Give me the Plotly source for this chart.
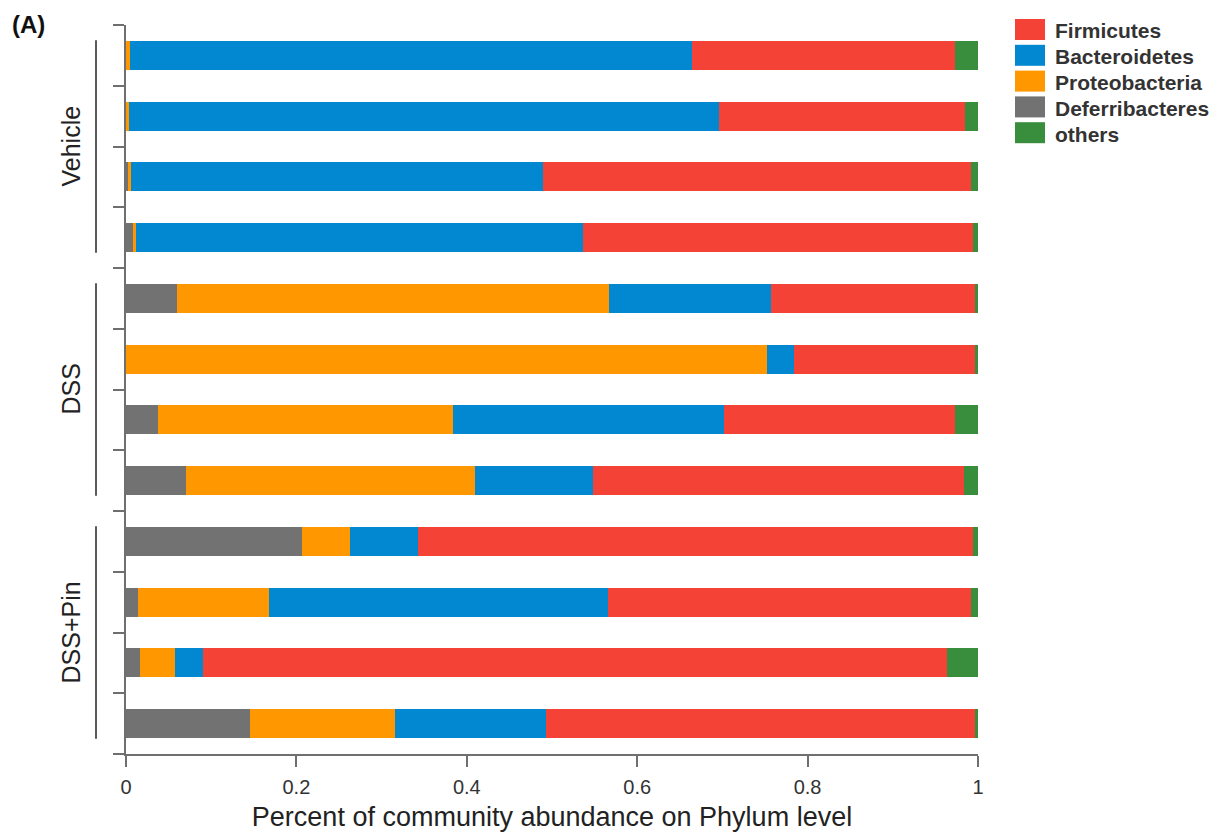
import numpy as np
import plotly.graph_objects as go

# Relative abundance at phylum level, one entry per sample (top to bottom)
samples = ["V1", "V2", "V3", "V4", "D1", "D2", "D3", "D4", "P1", "P2", "P3", "P4"]
groups = ["Vehicle", "DSS", "DSS+Pin"]
group_size = 4

deferribacteres = [0.000, 0.000, 0.002, 0.008, 0.060, 0.000, 0.038, 0.070, 0.207, 0.014, 0.016, 0.145]
proteobacteria = [0.005, 0.004, 0.004, 0.004, 0.507, 0.752, 0.346, 0.340, 0.056, 0.154, 0.042, 0.171]
bacteroidetes = [0.659, 0.692, 0.483, 0.524, 0.190, 0.032, 0.318, 0.138, 0.080, 0.398, 0.032, 0.177]
firmicutes = [0.309, 0.289, 0.503, 0.458, 0.239, 0.212, 0.271, 0.436, 0.651, 0.426, 0.874, 0.503]
others = [0.027, 0.015, 0.008, 0.006, 0.004, 0.004, 0.027, 0.016, 0.006, 0.008, 0.036, 0.004]

x_ticks = [0, 0.2, 0.4, 0.6, 0.8, 1]
x_tick_text = ["0", "0.2", "0.4", "0.6", "0.8", "1"]

# stacking order (left to right) and legend order (top to bottom)
stack = [
    ("Deferribacteres", deferribacteres, "#727272"),
    ("Proteobacteria", proteobacteria, "#FF9800"),
    ("Bacteroidetes", bacteroidetes, "#0288D1"),
    ("Firmicutes", firmicutes, "#F44336"),
    ("others", others, "#388E3C"),
]
legend_order = ["Firmicutes", "Bacteroidetes", "Proteobacteria", "Deferribacteres", "others"]
colors = {name: col for name, _, col in stack}

rows = np.arange(len(samples))
axis_col = "#6f6f6f"
font = "Liberation Sans, Arial, sans-serif"

fig = go.Figure()
for name, vals, col in stack:
    fig.add_trace(go.Bar(
        y=rows, x=vals, orientation="h", name=name,
        marker=dict(color=col, line=dict(width=0)),
        width=0.48, showlegend=False,
        hovertemplate=name + ": %{x:.3f}<extra></extra>",
    ))

# page-pixel helpers for the plot frame
W, H = 1220, 833
L, R, T, B = 126, 242, 25, 79
def px_x(p):
    return (p - L) / (W - L - R)
def px_y(p):
    return (H - B - p) / (H - T - B)

shapes = []
annotations = []

# group brackets and labels
for gi, g in enumerate(groups):
    first = gi * group_size
    last = first + group_size - 1
    shapes.append(dict(type="line", xref="paper", yref="y",
                       x0=px_x(96), x1=px_x(96), y0=first - 0.25, y1=last + 0.25,
                       line=dict(color="#5a5a5a", width=2)))
    annotations.append(dict(xref="paper", yref="y", x=px_x(70), y=(first + last) / 2,
                            text=g, textangle=-90, showarrow=False,
                            xanchor="center", yanchor="middle",
                            font=dict(family=font, size=25, color="#222")))

# legend built from swatches and labels
for i, name in enumerate(legend_order):
    cy = 29.5 + i * 25.8
    shapes.append(dict(type="rect", xref="paper", yref="paper",
                       x0=px_x(1015), x1=px_x(1045), y0=px_y(cy + 10.5), y1=px_y(cy - 10.5),
                       fillcolor=colors[name], line=dict(width=0)))
    annotations.append(dict(xref="paper", yref="paper", x=px_x(1053), y=px_y(cy + 1.5),
                            text="<b>" + name + "</b>", showarrow=False,
                            xanchor="left", yanchor="middle",
                            font=dict(family=font, size=21, color="#333")))

# panel tag
annotations.append(dict(xref="paper", yref="paper", x=px_x(10), y=px_y(24),
                        text="<b>(A)</b>", showarrow=False, xanchor="left", yanchor="middle",
                        font=dict(family=font, size=24, color="#111")))

fig.update_layout(
    width=W, height=H,
    margin=dict(l=L, r=R, t=T, b=B, pad=0),
    barmode="stack", bargap=0.5,
    plot_bgcolor="white", paper_bgcolor="white",
    shapes=shapes, annotations=annotations,
    font=dict(family=font),
    xaxis=dict(
        range=[0, 1], tickvals=x_ticks, ticktext=x_tick_text,
        showgrid=False, zeroline=False, automargin=False,
        showline=True, linecolor=axis_col, linewidth=2,
        ticks="outside", ticklen=11, tickwidth=2, tickcolor=axis_col,
        ticklabelstandoff=3,
        tickfont=dict(family=font, size=20, color="#333"),
        title=dict(text="Percent of community abundance on Phylum level",
                   font=dict(family=font, size=27, color="#222"), standoff=10),
    ),
    yaxis=dict(
        range=[len(samples) - 0.5, -0.5],
        tickvals=np.arange(len(samples) + 1) - 0.5,
        ticktext=[""] * (len(samples) + 1),
        showgrid=False, zeroline=False, automargin=False,
        showline=True, linecolor=axis_col, linewidth=2,
        ticks="outside", ticklen=11, tickwidth=2, tickcolor=axis_col,
    ),
)

fig.write_html("out.html")
